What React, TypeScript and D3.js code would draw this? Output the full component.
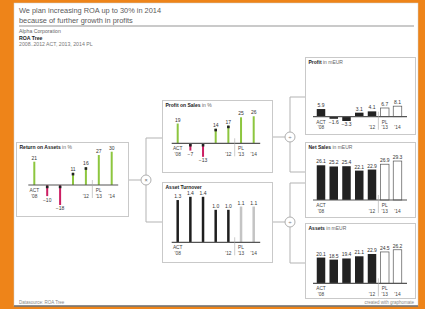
import React from 'react';
import * as d3 from 'd3';

const years = ["'08", "'09", "'10", "'11", "'12", "'13", "'14"];
const scenario = ['ACT', 'ACT', 'ACT', 'ACT', 'ACT', 'PL', 'PL'];
const roa = [21, -10, -18, 11, 16, 27, 30];
const profitOnSales = [19, -7, -13, 14, 17, 25, 26];
const assetTurnover = [1.3, 1.4, 1.4, 1.0, 1.0, 1.1, 1.1];
const profit = [5.9, -1.6, -3.3, 3.1, 4.1, 6.7, 8.1];
const netSales = [26.1, 25.2, 25.4, 22.1, 22.9, 26.9, 29.3];
const assets = [20.1, 18.5, 19.4, 21.1, 22.9, 24.5, 26.2];

const titleLines = ['We plan increasing ROA up to 30% in 2014', 'because of further growth in profits'];
const company = 'Alpha Corporation';
const reportName = 'ROA Tree';
const periods = '2008..2012 ACT, 2013, 2014 PL';
const footLeft = 'Datasource: ROA Tree';
const footRight = 'created with graphomate';

const FONT = "'Liberation Sans', Arial, sans-serif";
const GREEN = '#8dc63f';
const RED = '#cc1f63';

type Kind = 'needle' | 'thin' | 'bar';

interface MiniProps {
  x: number; y: number; w: number; h: number;
  title: string; unit: string;
  values: number[]; kind: Kind;
  x0: number; x1: number; base: number; k: number;
  fmt: (v: number) => string;
}

function Mini(p: MiniProps) {
  const xs = d3.scalePoint<string>().domain(years).range([p.x0, p.x1]);
  const ys = d3.scaleLinear().domain([0, 1]).range([p.base, p.base - p.k]);
  const pad = p.kind === 'bar' ? [8, 9.5] : [6, 6.5];
  const sepX = ((xs(years[4]) as number) + (xs(years[5]) as number)) / 2;
  const bw = p.kind === 'bar' ? 8.5 : p.kind === 'thin' ? 2.5 : 2;
  return (
    <g transform={`translate(${p.x},${p.y})`}>
      <rect x={0.5} y={0.5} width={p.w} height={p.h} fill="#fff" stroke="#c9c9c9" strokeWidth={1} />
      <text x={3.5} y={6.8} fontSize={5} fontFamily={FONT}>
        <tspan fontWeight="bold" fill="#222">{p.title}</tspan>
        <tspan fill="#666">{p.unit ? ' ' + p.unit : ''}</tspan>
      </text>
      {p.values.map((v, i) => {
        const cx = xs(years[i]) as number;
        const top = ys(Math.max(v, 0));
        const hgt = Math.abs(ys(v) - ys(0));
        const isPL = scenario[i] === 'PL';
        let fill = '#222';
        let stroke = 'none';
        if (p.kind === 'needle') fill = v >= 0 ? GREEN : RED;
        else if (p.kind === 'thin') fill = isPL ? '#c4c4c4' : '#1e1e1e';
        else if (isPL) { fill = '#fff'; stroke = '#555'; }
        const labelY = v >= 0 ? ys(v) - 2 : ys(v) + 5.5;
        return (
          <g key={i}>
            <rect x={cx - bw / 2} y={top} width={bw} height={hgt} fill={fill} stroke={stroke} strokeWidth={0.7} />
            {p.kind === 'needle' && i >= 1 && i <= 4 && (
              <rect x={cx - 1.3} y={v >= 0 ? ys(v) : ys(0) + 0.6} width={2.6} height={2.6} fill="#222" />
            )}
            <text x={cx} y={labelY} fontSize={5} fontFamily={FONT} fill="#333" textAnchor="middle">{p.fmt(v)}</text>
          </g>
        );
      })}
      <line x1={p.x0 - pad[0]} x2={p.x1 + pad[1]} y1={p.base} y2={p.base} stroke="#555" strokeWidth={1.2} />
      <line x1={sepX} x2={sepX} y1={p.base - 5} y2={p.base + 13} stroke="#aaa" strokeWidth={0.6} />
      {[0, 5].map((i) => (
        <text key={'s' + i} x={(xs(years[i]) as number)} y={p.base + 7} fontSize={4.8} fontFamily={FONT} fill="#444" textAnchor="middle">{scenario[i]}</text>
      ))}
      {[0, 4, 5, 6].map((i) => (
        <text key={'y' + i} x={(xs(years[i]) as number)} y={p.base + 12.5} fontSize={4.8} fontFamily={FONT} fill="#444" textAnchor="middle">{years[i]}</text>
      ))}
    </g>
  );
}

function Op({ cx, cy, sym }: { cx: number; cy: number; sym: string }) {
  return (
    <g>
      <circle cx={cx} cy={cy} r={5} fill="#fff" stroke="#b0b0b0" strokeWidth={1} />
      <text x={cx} y={cy + 1.8} fontSize={5.5} fontFamily={FONT} fill="#666" textAnchor="middle">{sym}</text>
    </g>
  );
}

const pct = (v: number) => d3.format('d')(v);
const one = (v: number) => d3.format('.1f')(v);

export default function App() {
  const line = '#b3b3b3';
  return (
    <svg width={425} height={309} style={{ position: 'absolute', left: 0, top: 0 }}>
      <rect x={0} y={0} width={425} height={309} fill="#ee8419" />
      <rect x={14} y={3} width={404} height={303} fill="#fff" stroke="#d0d0d0" strokeWidth={0.5} />
      <line x1={14} x2={418} y1={306} y2={306} stroke="#6d6d6d" strokeWidth={1.5} />
      {titleLines.map((t, i) => (
        <text key={i} x={19} y={12.5 + i * 10} fontSize={7.4} fontFamily={FONT} fill="#5a5a5a">{t}</text>
      ))}
      <line x1={19} x2={414} y1={26} y2={26} stroke="#b8b8b8" strokeWidth={1.5} />
      <text x={19} y={33} fontSize={5.2} fontFamily={FONT} fill="#666">{company}</text>
      <text x={19} y={39.6} fontSize={5.2} fontFamily={FONT} fill="#222" fontWeight="bold">{reportName}</text>
      <text x={19} y={46.2} fontSize={5.2} fontFamily={FONT} fill="#777">{periods}</text>

      {/* connectors */}
      <g stroke={line} strokeWidth={1} fill="none">
        <line x1={128} x2={146} y1={180} y2={180} />
        <line x1={146} x2={146} y1={138} y2={222} />
        <line x1={146} x2={162} y1={138} y2={138} />
        <line x1={146} x2={162} y1={222} y2={222} />
        <line x1={272} x2={290} y1={137} y2={137} />
        <line x1={290} x2={290} y1={97} y2={172} />
        <line x1={290} x2={305} y1={97} y2={97} />
        <line x1={290} x2={305} y1={172} y2={172} />
        <line x1={272} x2={290} y1={222} y2={222} />
        <line x1={290} x2={290} y1={183} y2={263} />
        <line x1={290} x2={305} y1={183} y2={183} />
        <line x1={290} x2={305} y1={263} y2={263} />
      </g>
      <Op cx={146} cy={180} sym="×" />
      <Op cx={290} cy={137} sym="÷" />
      <Op cx={290} cy={222} sym="÷" />

      <Mini x={16} y={142} w={112} h={74} title="Return on Assets" unit="in %" values={roa} kind="needle"
        x0={18.3} x1={95.7} base={43} k={1.11} fmt={pct} />
      <Mini x={162} y={100} w={110} h={72} title="Profit on Sales" unit="in %" values={profitOnSales} kind="needle"
        x0={15.7} x1={91.7} base={43.3} k={1.04} fmt={pct} />
      <Mini x={162} y={182} w={110} h={80} title="Asset Turnover" unit="" values={assetTurnover} kind="thin"
        x0={15.7} x1={91.7} base={60.3} k={32.5} fmt={one} />
      <Mini x={305} y={57} w={110} h={77} title="Profit" unit="in mEUR" values={profit} kind="bar"
        x0={16} x1={92.5} base={59.7} k={1.3} fmt={one} />
      <Mini x={305} y={142} w={110} h={75} title="Net Sales" unit="in mEUR" values={netSales} kind="bar"
        x0={16} x1={92.5} base={58} k={1.33} fmt={one} />
      <Mini x={305} y={223} w={110} h={75} title="Assets" unit="in mEUR" values={assets} kind="bar"
        x0={16} x1={92.5} base={60.3} k={1.28} fmt={one} />

      <text x={19} y={304} fontSize={4.5} fontFamily={FONT} fill="#888">{footLeft}</text>
      <text x={414} y={304} fontSize={4.5} fontFamily={FONT} fill="#888" textAnchor="end">{footRight}</text>
    </svg>
  );
}
